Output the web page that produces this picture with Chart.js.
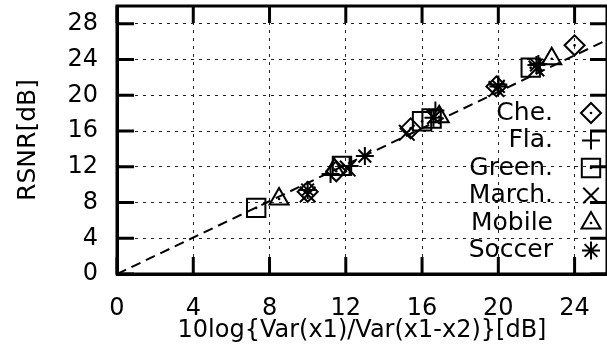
<!DOCTYPE html>
<html>
<head>
<meta charset="utf-8">
<script src="https://cdn.jsdelivr.net/npm/chart.js@4.4.0/dist/chart.umd.min.js"></script>
<style>
  html, body { margin: 0; padding: 0; background: #fff; overflow: hidden; }
</style>
</head>
<body>
<canvas id="rsnrChart" width="607" height="351"></canvas>
<script>
const cheX = [10.0, 11.5, 15.4, 19.9, 24.0];
const cheY = [9.2, 11.5, 16.3, 21.0, 25.6];
const flaX = [11.2, 12.2, 16.7, 20.0, 22.1];
const flaY = [11.2, 12.1, 18.3, 21.2, 23.5];
const greenX = [7.3, 11.8, 16.0, 16.5, 21.7];
const greenY = [7.4, 12.1, 17.1, 17.4, 23.1];
const marchX = [10.0, 12.1, 15.2, 19.9, 22.0];
const marchY = [8.9, 11.8, 15.8, 20.7, 23.0];
const mobileX = [8.5, 11.4, 16.9, 22.8];
const mobileY = [8.4, 11.7, 17.6, 24.1];
const soccerX = [10.0, 13.0, 16.6, 20.0, 22.0];
const soccerY = [9.4, 13.2, 17.5, 21.0, 23.4];

// dashed reference line
const refX = [0, 25.7];
const refY = [0, 26.2];

const seriesNames = ['Che.', 'Fla.', 'Green.', 'March.', 'Mobile', 'Soccer'];
const xTicks = [0, 4, 8, 12, 16, 20, 24];
const yTicks = [0, 4, 8, 12, 16, 20, 24, 28];

// open symbols get a small centre dot, like the gnuplot originals
const styles = [
  { style: 'rectRot', r: 10, dot: true },
  { style: 'cross', r: 9 },
  { style: 'rect', r: 13, dot: true },
  { style: 'crossRot', r: 11 },
  { style: 'triangle', r: 11, dot: true },
  { style: 'star', r: 9 }
];

const pts = (xs, ys) => xs.map((x, i) => ({ x: x, y: ys[i] }));
const allX = [cheX, flaX, greenX, marchX, mobileX, soccerX];
const allY = [cheY, flaY, greenY, marchY, mobileY, soccerY];

const datasets = seriesNames.map((name, i) => ({
  label: name,
  data: pts(allX[i], allY[i]),
  showLine: false,
  pointStyle: styles[i].style,
  pointRadius: styles[i].r,
  pointHoverRadius: styles[i].r,
  pointBorderColor: '#000',
  pointBackgroundColor: 'rgba(0,0,0,0)',
  pointBorderWidth: 2
}));

datasets.push({
  type: 'line',
  label: 'ref',
  data: pts(refX, refY),
  borderColor: '#000',
  borderWidth: 2,
  borderDash: [10, 6],
  pointRadius: 0,
  fill: false
});

const FONT = 'DejaVu Sans, sans-serif';

// no auto padding, chart area is set by hand
const noPad = s => { s.paddingLeft = 0; s.paddingRight = 0; s.paddingTop = 0; s.paddingBottom = 0; };

const centreDot = (ctx, x, y) => {
  ctx.beginPath();
  ctx.arc(x, y, 1.3, 0, Math.PI * 2);
  ctx.fillStyle = '#000';
  ctx.fill();
};

// frame with inward major ticks, gnuplot style
const framePlugin = {
  id: 'frame',
  afterDatasetsDraw(chart) {
    const { ctx, chartArea: a, scales } = chart;
    const len = 17;
    ctx.save();
    // centre dots on the open markers
    chart.data.datasets.forEach((ds, i) => {
      if (!styles[i] || !styles[i].dot) return;
      chart.getDatasetMeta(i).data.forEach(p => centreDot(ctx, p.x, p.y));
    });
    ctx.strokeStyle = '#000';
    ctx.lineWidth = 3;
    ctx.strokeRect(a.left, a.top, a.right - a.left, a.bottom - a.top);
    ctx.beginPath();
    scales.x.ticks.forEach(t => {
      const px = scales.x.getPixelForValue(t.value);
      ctx.moveTo(px, a.bottom); ctx.lineTo(px, a.bottom - len);
      ctx.moveTo(px, a.top); ctx.lineTo(px, a.top + len);
    });
    scales.y.ticks.forEach(t => {
      const py = scales.y.getPixelForValue(t.value);
      ctx.moveTo(a.left, py); ctx.lineTo(a.left + len, py);
      ctx.moveTo(a.right, py); ctx.lineTo(a.right - len, py);
    });
    ctx.stroke();
    ctx.restore();
  }
};

// key inside the plot: text first, symbol after
const keyPlugin = {
  id: 'key',
  afterDatasetsDraw(chart) {
    const { ctx } = chart;
    const textRight = 553, symX = 591, top = 113, step = 27.5;
    ctx.save();
    ctx.font = '25px ' + FONT;
    ctx.textAlign = 'right';
    ctx.textBaseline = 'middle';
    seriesNames.forEach((name, i) => {
      const y = top + i * step;
      ctx.fillStyle = '#000';
      ctx.fillText(name, textRight, y);
      ctx.fillStyle = 'rgba(0,0,0,0)';
      ctx.strokeStyle = '#000';
      ctx.lineWidth = 2;
      Chart.helpers.drawPoint(ctx, {
        pointStyle: styles[i].style,
        radius: styles[i].r,
        borderWidth: 2
      }, symX, y);
      if (styles[i].dot) centreDot(ctx, symX, y);
    });
    ctx.restore();
  }
};

new Chart(document.getElementById('rsnrChart').getContext('2d'), {
  type: 'scatter',
  data: { datasets: datasets },
  options: {
    responsive: false,
    animation: false,
    layout: { autoPadding: false, padding: { top: 6, right: 0, left: 0, bottom: 0 } },
    plugins: { legend: { display: false }, tooltip: { enabled: false } },
    scales: {
      x: {
        type: 'linear',
        min: 0,
        max: 25.7,
        afterFit: s => { s.height = 77; noPad(s); },
        afterBuildTicks: s => { s.ticks = xTicks.map(v => ({ value: v })); },
        ticks: { padding: 20, color: '#000', font: { family: FONT, size: 24 } },
        grid: { color: '#222', lineWidth: 1, drawTicks: false },
        border: { display: true, color: '#000', width: 3, dash: [3, 5] },
        title: {
          display: true,
          text: '10log{Var(x1)/Var(x1-x2)}[dB]',
          color: '#000',
          font: { family: FONT, size: 24 },
          padding: { top: 0, bottom: 6 }
        }
      },
      y: {
        type: 'linear',
        min: 0,
        max: 30,
        afterFit: s => { s.width = 117; noPad(s); },
        afterBuildTicks: s => { s.ticks = yTicks.map(v => ({ value: v })); },
        ticks: { padding: 19, color: '#000', font: { family: FONT, size: 24 } },
        grid: { color: '#222', lineWidth: 1, drawTicks: false },
        border: { display: true, color: '#000', width: 3, dash: [3, 5] },
        title: {
          display: true,
          text: 'RSNR[dB]',
          color: '#000',
          font: { family: FONT, size: 25 },
          padding: { top: 13, bottom: 0 }
        }
      }
    }
  },
  plugins: [framePlugin, keyPlugin]
});
</script>
</body>
</html>
